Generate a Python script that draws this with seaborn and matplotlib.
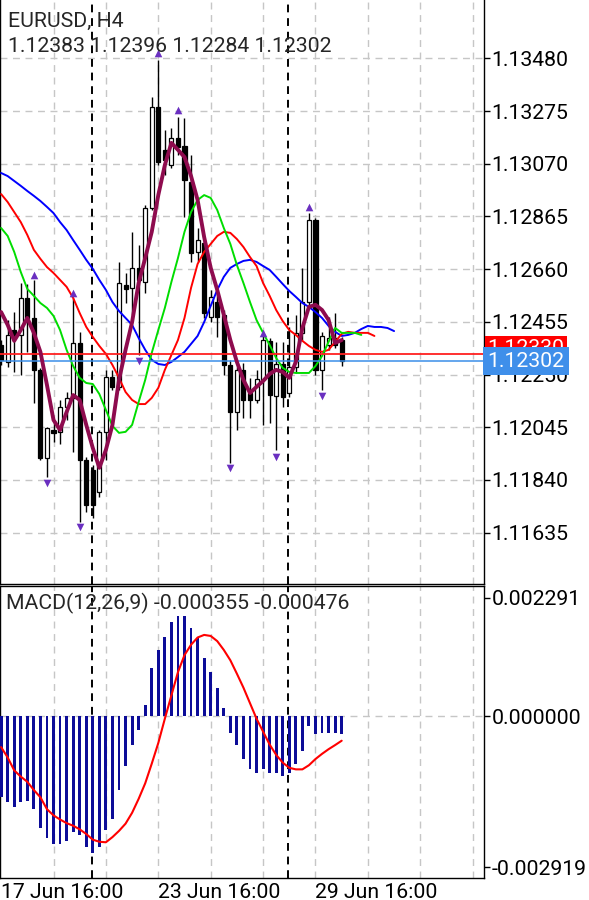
import numpy as np
import matplotlib
matplotlib.use("Agg")
import matplotlib.pyplot as plt
import matplotlib.transforms as mtransforms
import seaborn as sns

# --- chart data ---
symbol_title = "EURUSD, H4"
ohlc_text = "1.12383 1.12396 1.12284 1.12302"
macd_title = "MACD(12,26,9) -0.000355 -0.000476"

opens = [1.12365, 1.12299, 1.12423, 1.12404, 1.12548, 1.12470, 1.12268, 1.11925, 1.12034, 1.12027,
         1.12124, 1.12159, 1.12373, 1.11918, 1.11879, 1.11793, 1.12027, 1.12241, 1.12202, 1.12598,
         1.12587, 1.12665, 1.12610, 1.12898, 1.13291, 1.13124, 1.13065, 1.13170, 1.13139, 1.12999,
         1.12727, 1.12762, 1.12474, 1.12532, 1.12482, 1.12287, 1.12104, 1.12268, 1.12178, 1.12151,
         1.12229, 1.12381, 1.12167, 1.12291, 1.12178, 1.12279, 1.12412, 1.12532, 1.12851, 1.12268,
         1.12365, 1.12392, 1.12383]
highs = [1.12384, 1.12462, 1.12493, 1.12606, 1.12602, 1.12618, 1.12276, 1.12046, 1.12073, 1.12151,
         1.12182, 1.12548, 1.12416, 1.11929, 1.11898, 1.12034, 1.12268, 1.12268, 1.12688, 1.12645,
         1.12805, 1.12754, 1.12910, 1.13330, 1.13474, 1.13201, 1.13209, 1.13252, 1.13248, 1.13104,
         1.12820, 1.12789, 1.12579, 1.12571, 1.12501, 1.12307, 1.12279, 1.12295, 1.12237, 1.12268,
         1.12404, 1.12392, 1.12377, 1.12377, 1.12435, 1.12482, 1.12665, 1.12878, 1.12859, 1.12416,
         1.12474, 1.12489, 1.12396]
lows = [1.12287, 1.12279, 1.12260, 1.12248, 1.12338, 1.12139, 1.11918, 1.11852, 1.11988, 1.11980,
        1.12073, 1.11949, 1.11676, 1.11715, 1.11692, 1.11774, 1.11918, 1.12190, 1.12190, 1.12528,
        1.12482, 1.12326, 1.12567, 1.12890, 1.13065, 1.13026, 1.13054, 1.13104, 1.12863, 1.12688,
        1.12688, 1.12470, 1.12454, 1.12396, 1.12248, 1.11906, 1.12034, 1.12081, 1.12081, 1.12139,
        1.12054, 1.12062, 1.11957, 1.12124, 1.12163, 1.12256, 1.12384, 1.12521, 1.12248, 1.12190,
        1.12346, 1.12353, 1.12284]
closes = [1.12307, 1.12404, 1.12400, 1.12548, 1.12470, 1.12268, 1.11925, 1.12042, 1.12023, 1.12124,
          1.12159, 1.12373, 1.11918, 1.11743, 1.11743, 1.12027, 1.12241, 1.12202, 1.12606, 1.12583,
          1.12665, 1.12618, 1.12898, 1.13291, 1.13077, 1.13085, 1.13170, 1.13135, 1.13007, 1.12723,
          1.12773, 1.12489, 1.12552, 1.12474, 1.12287, 1.12104, 1.12268, 1.12151, 1.12151, 1.12233,
          1.12384, 1.12170, 1.12291, 1.12163, 1.12279, 1.12412, 1.12532, 1.12851, 1.12268, 1.12400,
          1.12392, 1.12365, 1.12302]

# alligator lines (jaw / teeth / lips run past the last bar because of their shift)
jaw = [1.13034, 1.13022, 1.13003, 1.12984, 1.12964, 1.12945, 1.12925, 1.12902, 1.12878, 1.12843,
       1.12812, 1.12773, 1.12735, 1.12696, 1.12661, 1.12618, 1.12579, 1.12532, 1.12497, 1.12470,
       1.12443, 1.12392, 1.12346, 1.12307, 1.12291, 1.12287, 1.12299, 1.12318, 1.12338, 1.12369,
       1.12400, 1.12454, 1.12517, 1.12579, 1.12630, 1.12665, 1.12680, 1.12692, 1.12696, 1.12688,
       1.12672, 1.12657, 1.12630, 1.12602, 1.12575, 1.12552, 1.12528, 1.12513, 1.12493, 1.12470,
       1.12439, 1.12416, 1.12400, 1.12404, 1.12412, 1.12427, 1.12439, 1.12435, 1.12435, 1.12431,
       1.12419]
teeth = [1.12952, 1.12921, 1.12882, 1.12843, 1.12793, 1.12735, 1.12700, 1.12668, 1.12645, 1.12618,
         1.12591, 1.12548, 1.12489, 1.12435, 1.12396, 1.12361, 1.12330, 1.12287, 1.12237, 1.12182,
         1.12151, 1.12135, 1.12135, 1.12159, 1.12198, 1.12268, 1.12326, 1.12384, 1.12470, 1.12587,
         1.12680, 1.12727, 1.12758, 1.12789, 1.12805, 1.12801, 1.12777, 1.12746, 1.12707, 1.12672,
         1.12606, 1.12556, 1.12501, 1.12458, 1.12423, 1.12404, 1.12381, 1.12361, 1.12346, 1.12338,
         1.12346, 1.12377, 1.12408, 1.12416, 1.12412, 1.12412, 1.12412, 1.12400]
lips = [1.12820, 1.12789, 1.12727, 1.12649, 1.12583, 1.12556, 1.12528, 1.12509, 1.12478, 1.12423,
        1.12346, 1.12283, 1.12237, 1.12217, 1.12213, 1.12174, 1.12112, 1.12050, 1.12023, 1.12027,
        1.12054, 1.12143, 1.12229, 1.12334, 1.12423, 1.12509, 1.12610, 1.12703, 1.12805, 1.12882,
        1.12929, 1.12948, 1.12937, 1.12890, 1.12820, 1.12758, 1.12676, 1.12606, 1.12532, 1.12462,
        1.12412, 1.12365, 1.12314, 1.12276, 1.12260, 1.12256, 1.12256, 1.12256, 1.12283, 1.12322,
        1.12377, 1.12431, 1.12412, 1.12412, 1.12412, 1.12404]
trend_line = [1.12493, 1.12443, 1.12381, 1.12423, 1.12470, 1.12412, 1.12338, 1.12209, 1.12073, 1.12034,
              1.12104, 1.12170, 1.12151, 1.12054, 1.11964, 1.11887, 1.11957, 1.12054, 1.12229, 1.12346,
              1.12454, 1.12606, 1.12703, 1.12805, 1.12948, 1.13065, 1.13151, 1.13124, 1.13096, 1.13022,
              1.12929, 1.12785, 1.12665, 1.12579, 1.12482, 1.12384, 1.12299, 1.12229, 1.12178, 1.12202,
              1.12225, 1.12252, 1.12268, 1.12260, 1.12237, 1.12299, 1.12431, 1.12513, 1.12521, 1.12501,
              1.12462, 1.12373, 1.12384]

fractal_up_bar = [5, 11, 24, 27, 40, 47]
fractal_up_price = [1.12637, 1.12567, 1.13501, 1.13279, 1.12412, 1.12902]
fractal_dn_bar = [7, 12, 21, 35, 42, 49]
fractal_dn_price = [1.11828, 1.11657, 1.12303, 1.11887, 1.11929, 1.12167]

macd_hist = [-0.00157, -0.00167, -0.00175, -0.00167, -0.00164, -0.00180, -0.00217, -0.00236, -0.00248, -0.00247,
             -0.00241, -0.00225, -0.00230, -0.00254, -0.00265, -0.00254, -0.00221, -0.00199, -0.00142, -0.00097,
             -0.00055, -0.00027, 0.00021, 0.00093, 0.00128, 0.00153, 0.00182, 0.00194, 0.00194, 0.00171,
             0.00151, 0.00112, 0.00085, 0.00055, 0.00016, -0.00033, -0.00055, -0.00082, -0.00103, -0.00110,
             -0.00102, -0.00111, -0.00110, -0.00116, -0.00110, -0.00092, -0.00067, -0.00020, -0.00034, -0.00032,
             -0.00032, -0.00032, -0.000355]
macd_signal = [-0.00060, -0.00080, -0.00105, -0.00117, -0.00127, -0.00143, -0.00157, -0.00180, -0.00192, -0.00200,
               -0.00207, -0.00212, -0.00219, -0.00228, -0.00239, -0.00243, -0.00244, -0.00234, -0.00222, -0.00208,
               -0.00187, -0.00160, -0.00130, -0.00092, -0.00052, -0.00005, 0.00040, 0.00085, 0.00118, 0.00138,
               0.00152, 0.00157, 0.00155, 0.00145, 0.00128, 0.00108, 0.00082, 0.00055, 0.00025, -0.00005,
               -0.00030, -0.00055, -0.00075, -0.00090, -0.00100, -0.00103, -0.00103, -0.00095, -0.00083, -0.00073,
               -0.00064, -0.00056, -0.000476]

price_ticks = [1.13480, 1.13275, 1.13070, 1.12865, 1.12660, 1.12455, 1.12250, 1.12045, 1.11840, 1.11635]
macd_ticks = [0.002291, 0.0, -0.002919]
date_tick_bar = [0, 24, 48]
date_labels = ["17 Jun 16:00", "23 Jun 16:00", "29 Jun 16:00"]
week_sep = [13.85, 43.85]
bid_price = 1.12302
ask_price = 1.12330

# --- figure ---
sns.set_style("white")
plt.rcParams['font.family'] = ['Roboto', 'DejaVu Sans']
FS = 15.3
W, H = 589, 900
fig = plt.figure(figsize=(W / 100, H / 100), dpi=100)
ax = fig.add_axes([0, 1 - 584 / H, 484 / W, 584 / H])
axm = fig.add_axes([0, 1 - 878 / H, 484 / W, (878 - 586) / H])

xlim = (-0.17, 73.73)
grid_kw = dict(color='#c6c6c6', lw=1.0, ls=(0, (5, 4)), zorder=0)
sep_kw = dict(color='black', lw=1.4, ls=(0, (4, 3)), zorder=1)

# grid + week separators
for a in (ax, axm):
    for gx in range(8, 74, 8):
        a.axvline(gx, **grid_kw)
    for s in week_sep:
        a.axvline(s, **sep_kw)
for gy in price_ticks:
    ax.axhline(gy, **grid_kw)
axm.axhline(0, **grid_kw)

# candles
o, h, l, c = map(np.array, (opens, highs, lows, closes))
xb = np.arange(len(o))
ax.vlines(xb, l, h, color='black', lw=1.0, zorder=2)
body_lo = np.minimum(o, c)
body_h = np.maximum(np.abs(c - o), 0.00002)
ax.bar(xb, body_h, bottom=body_lo, width=0.62,
       color=np.where(c >= o, 'white', 'black'), edgecolor='black', lw=0.9, zorder=3)

# alligator + smoothed line
sns.lineplot(x=np.arange(len(jaw)), y=jaw, ax=ax, color='#0000ff', lw=1.4, zorder=4)
sns.lineplot(x=np.arange(len(teeth)), y=teeth, ax=ax, color='#ff0000', lw=1.4, zorder=4)
sns.lineplot(x=np.arange(len(lips)), y=lips, ax=ax, color='#00dd00', lw=1.4, zorder=4)
sns.lineplot(x=xb, y=trend_line, ax=ax, color='#8e0b4e', lw=2.8, zorder=5)

# fractals
ax.scatter(fractal_up_bar, fractal_up_price, marker='^', s=30, color='#6a2fc0', lw=0, zorder=6)
ax.scatter(fractal_dn_bar, fractal_dn_price, marker='v', s=30, color='#6a2fc0', lw=0, zorder=6)

# bid / ask lines and labels
ax.axhline(ask_price, color='#ff2020', lw=1.3, zorder=4)
ax.axhline(bid_price, color='#3a8ee8', lw=1.1, zorder=4)
trans = mtransforms.blended_transform_factory(ax.transAxes, ax.transData)
ax.annotate(f"{ask_price:.5f}", xy=(1.007, ask_price), xycoords=trans, xytext=(0, 4),
            textcoords='offset points', color='white', fontsize=FS, va='center', ha='left',
            bbox=dict(boxstyle='square,pad=0.12', fc='#ff0000', ec='none'), zorder=10,
            annotation_clip=False)
ax.annotate(f"{bid_price:.5f}", xy=(1.007, bid_price), xycoords=trans,
            color='white', fontsize=FS, va='center', ha='left',
            bbox=dict(boxstyle='square,pad=0.2', fc='#3f8fea', ec='none'), zorder=11,
            annotation_clip=False)

ax.set_xlim(*xlim)
ax.set_ylim(1.11435, 1.13707)
ax.set_xticks([])
ax.yaxis.tick_right()
ax.set_yticks(price_ticks)
ax.set_yticklabels([f"{p:.5f}" for p in price_ticks])
ax.tick_params(axis='y', length=4, width=1, pad=1.5, labelsize=FS, colors='black')
ax.set_xlabel("")
ax.set_ylabel("")

# MACD panel
axm.bar(xb, macd_hist, width=0.44, color='#0c0c98', edgecolor='none', linewidth=0, zorder=3)
sns.lineplot(x=xb, y=macd_signal, ax=axm, color='#ff0000', lw=1.5, zorder=4)
axm.set_xlim(*xlim)
axm.set_ylim(-0.003131, 0.002516)
axm.yaxis.tick_right()
axm.set_yticks(macd_ticks)
axm.set_yticklabels([f"{v:.6f}" for v in macd_ticks])
axm.set_xticks(date_tick_bar)
axm.set_xticklabels(date_labels, ha='left')
axm.tick_params(axis='both', length=4, width=1, pad=1.5, labelsize=FS, colors='black')
axm.tick_params(axis='x', length=3, pad=0.5)
axm.set_xlabel("")
axm.set_ylabel("")

for a in (ax, axm):
    for side in ('left', 'right', 'bottom', 'top'):
        a.spines[side].set_color('black')
        a.spines[side].set_linewidth(1.0)
ax.spines['top'].set_visible(False)

fig.text(8 / W, 1 - 27 / H, symbol_title, fontsize=FS, va='baseline', ha='left')
fig.text(8 / W, 1 - 52 / H, ohlc_text, fontsize=FS, va='baseline', ha='left')
fig.text(6 / W, 1 - 609 / H, macd_title, fontsize=FS, va='baseline', ha='left')

fig.savefig("out.png", dpi=100)
